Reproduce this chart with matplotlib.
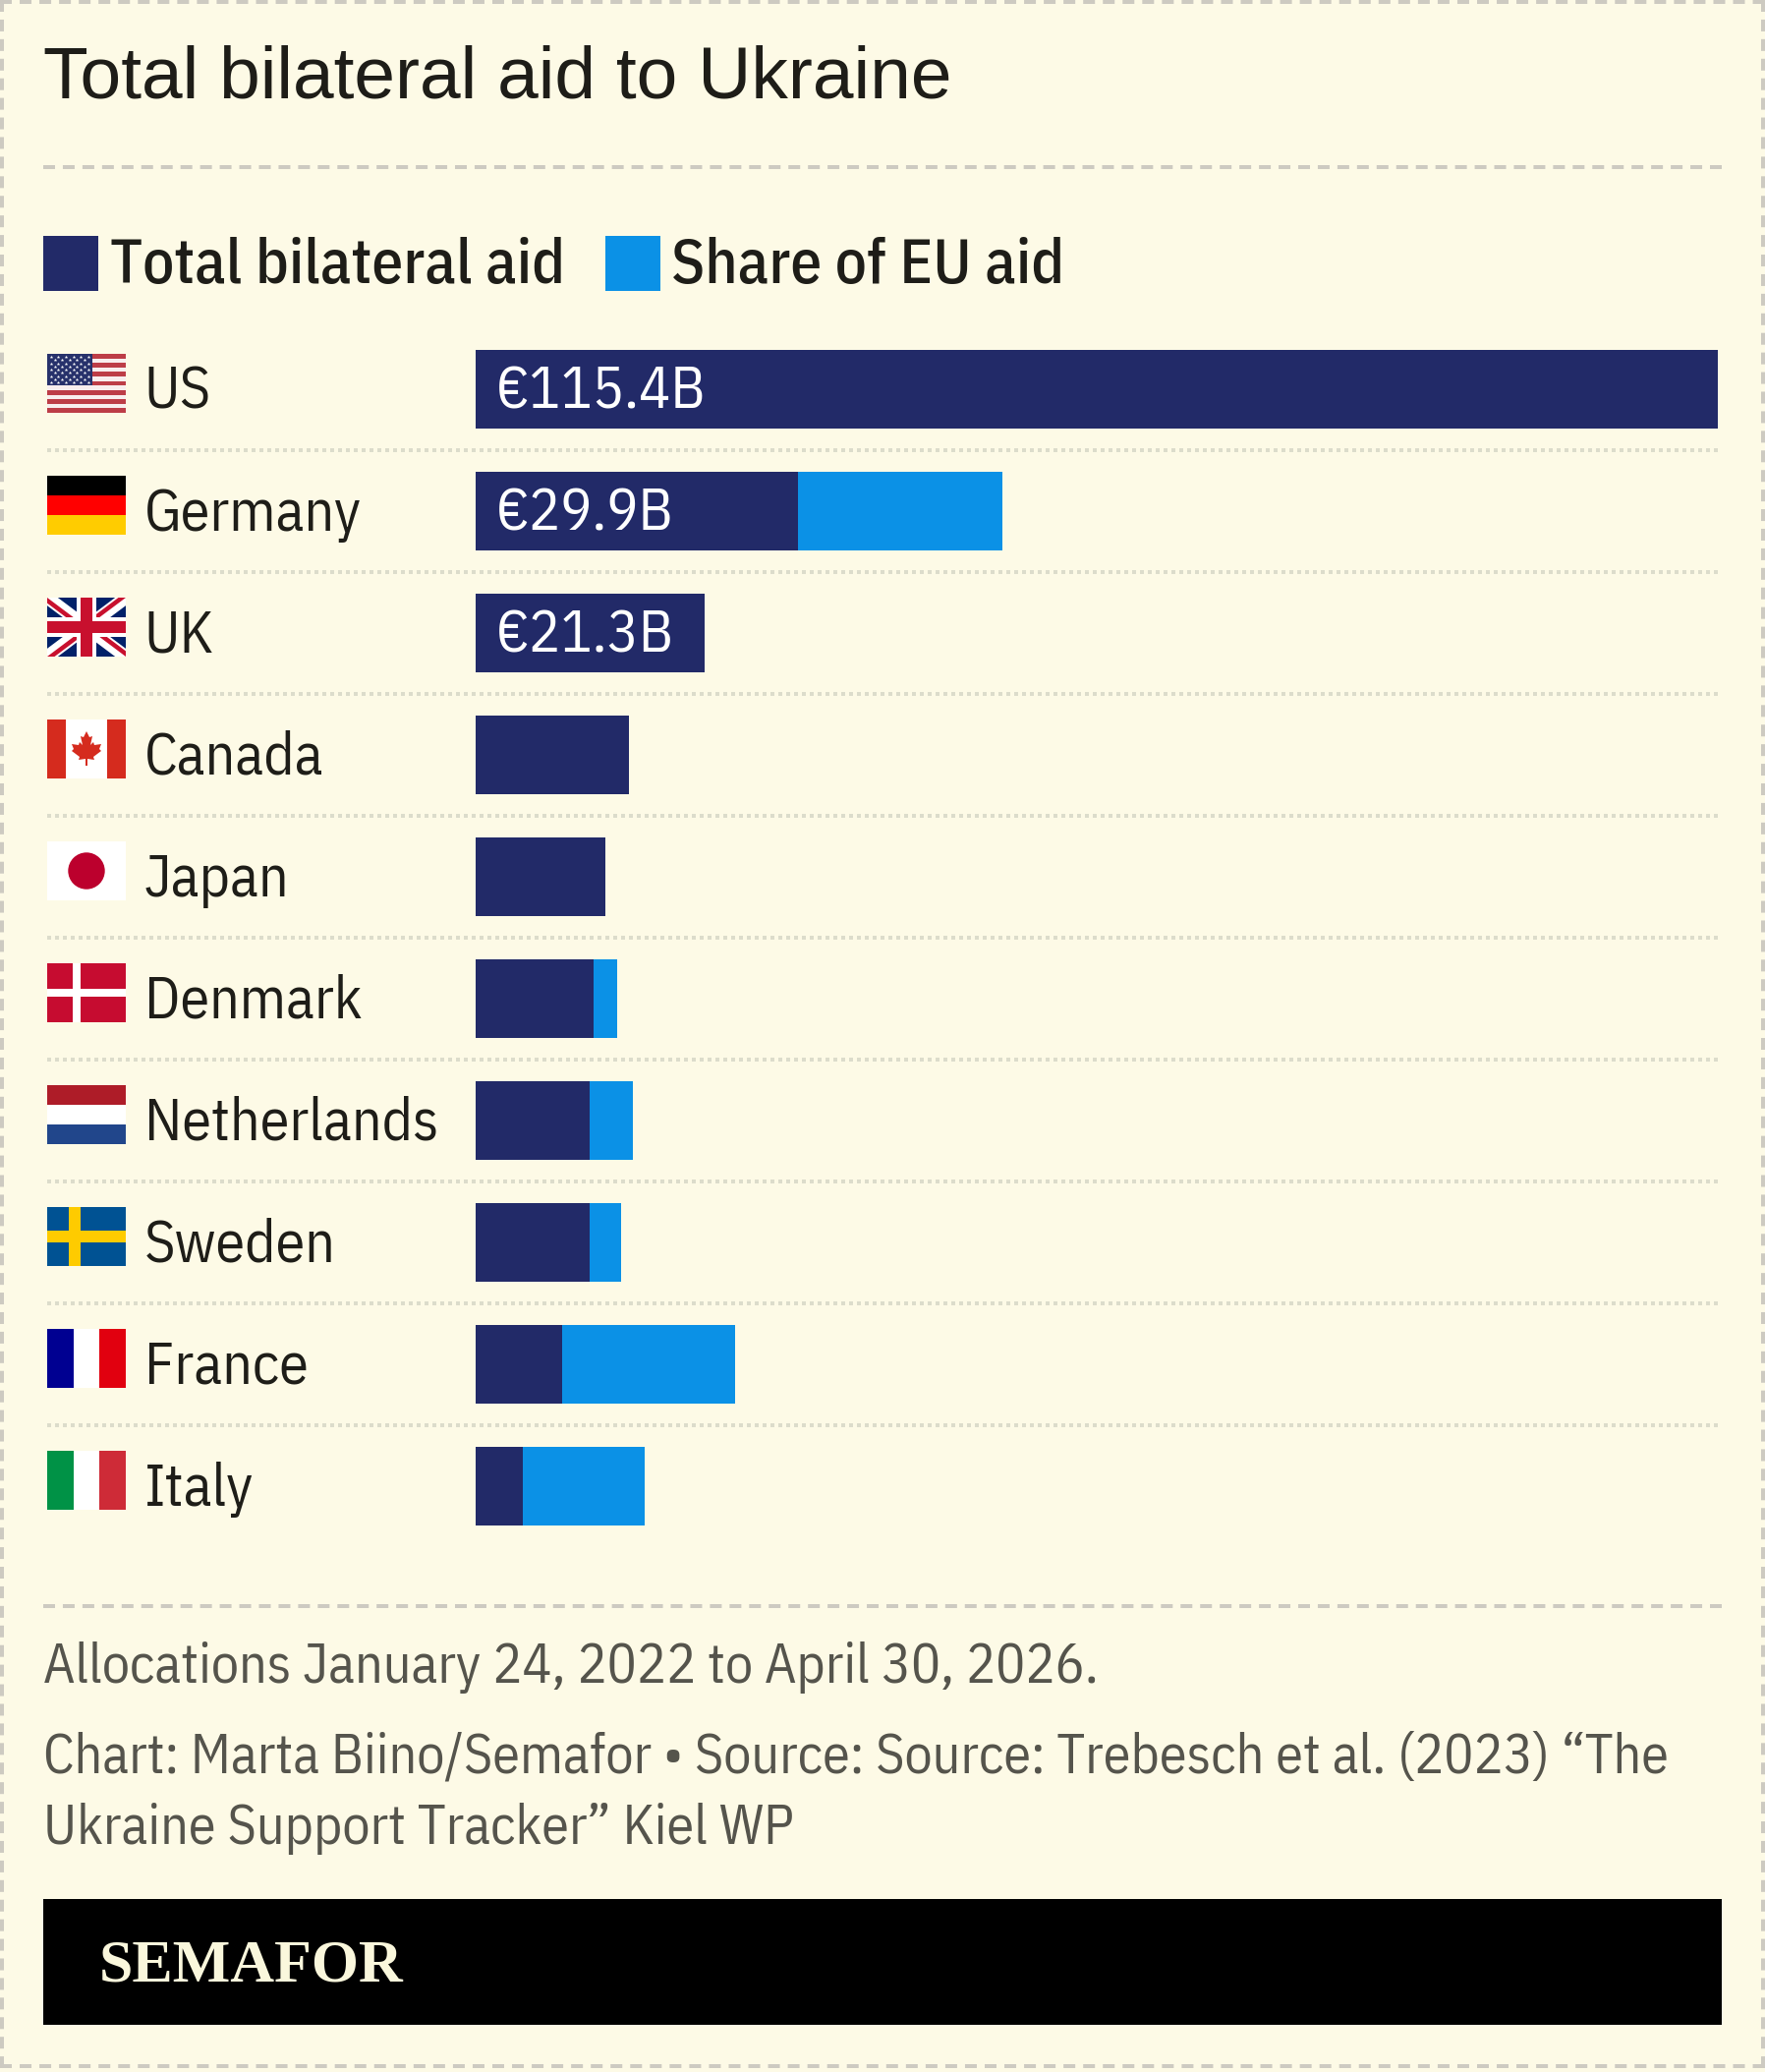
import matplotlib
matplotlib.use("Agg")
import matplotlib.pyplot as plt
from matplotlib import font_manager as fm
from matplotlib.patches import Rectangle, Circle, Polygon

# --- data -------------------------------------------------------------
countries = ["US", "Germany", "UK", "Canada", "Japan", "Denmark",
             "Netherlands", "Sweden", "France", "Italy"]
bilateral = [115.4, 29.9, 21.3, 14.2, 12.05, 11.0, 10.6, 10.6, 8.0, 4.4]
eu_share = [0.0, 19.0, 0.0, 0.0, 0.0, 2.15, 4.0, 2.9, 16.1, 11.3]
value_labels = ["€115.4B", "€29.9B", "€21.3B", "", "", "", "", "", "", ""]
legend_labels = ["Total bilateral aid", "Share of EU aid"]
title = "Total bilateral aid to Ukraine"
note = "Allocations January 24, 2022 to April 30, 2026."
credit = ["Chart: Marta Biino/Semafor • Source: Source: Trebesch et al. (2023) “The",
          "Ukraine Support Tracker” Kiel WP"]
brand = "SEMAFOR"

# --- palette ----------------------------------------------------------
PAPER = "#fdfae6"
NAVY = "#222a68"
BLUE = "#0b91e6"
INK = "#1e1d18"
GREY = "#55544c"
DASH = "#cdcac1"
DOTS = "#dcdccb"

W, H = 1796, 2108
available = {f.name for f in fm.fontManager.ttflist}
narrow = next((n for n in ["IBM Plex Sans Condensed", "Roboto Condensed",
                           "Liberation Sans Narrow", "Open Sans Condensed",
                           "Liberation Sans"] if n in available), "DejaVu Sans")


def px(size):
    return size * 0.72


fig = plt.figure(figsize=(W / 100, H / 100), dpi=100, facecolor=PAPER)

# page layer in pixel units for rules, flags and furniture
page = fig.add_axes([0, 0, 1, 1], zorder=1)
page.set_xlim(0, W)
page.set_ylim(H, 0)
page.axis("off")

# bar layer: one row every 124 px, the longest bar reaches the right margin
left, right, top, row = 484, 1748, 334, 124
chart = fig.add_axes([left / W, 1 - (top + row * len(countries)) / H,
                      (right - left) / W, row * len(countries) / H], zorder=2)
chart.patch.set_alpha(0)
chart.set_xlim(0, max(bilateral))
chart.set_ylim(len(countries) - 0.5, -0.5)
chart.axis("off")
ys = list(range(len(countries)))
chart.barh(ys, bilateral, height=80 / row, color=NAVY, linewidth=0)
chart.barh(ys, eu_share, left=bilateral, height=80 / row, color=BLUE, linewidth=0)
for y, lab in zip(ys, value_labels):
    if lab:
        chart.annotate(lab, (0, y), xytext=(px(21), px(2.5)), textcoords="offset points",
                       color="white", fontsize=px(60), family=narrow, va="center_baseline")


def rule(x0, y0, x1, y1, dash, gap, color, width=4):
    # dash and gap are given in pixels; matplotlib scales them by the line width
    page.plot([x0, x1], [y0, y1], color=color, lw=px(width),
              linestyle=(0, (dash / width, gap / width)), dash_capstyle="butt")


# outer dashed frame
rule(0, 2, W, 2, 12, 8.04, DASH)
rule(0, 2102, W, 2102, 12, 8.04, DASH)
rule(2, 0, 2, 2104, 12, 7.925, DASH)
rule(W - 2, 0, W - 2, 2104, 12, 7.925, DASH)

rule(44, 170, 1752, 170, 12, 7.953, DASH)
rule(44, 1634, 1752, 1634, 12, 7.953, DASH)
for i in range(1, len(countries)):
    rule(48, top + row * i, 1748, top + row * i, 4, 4, DOTS)

# heading and legend
page.text(44, 100, title, fontsize=px(75), color=INK, family="Liberation Sans", va="baseline")
page.add_patch(Rectangle((44, 240), 56, 56, color=NAVY, lw=0))
page.add_patch(Rectangle((616, 240), 56, 56, color=BLUE, lw=0))
page.text(112, 288, legend_labels[0], fontsize=px(63.5), color=INK, family=narrow,
          weight="medium", va="baseline")
page.text(683, 288, legend_labels[1], fontsize=px(63.5), color=INK, family=narrow,
          weight="medium", va="baseline")

for i, name in enumerate(countries):
    page.text(146.5, 416 + row * i, name, fontsize=px(60), color=INK, family=narrow, va="baseline")


# --- flags, each 80 x 60 px ------------------------------------------
def rect(x, y, w, h, c, z=3):
    p = Rectangle((x, y), w, h, facecolor=c, edgecolor="none", zorder=z)
    page.add_patch(p)
    return p


def h_bands(x, y, colors):
    for k, c in enumerate(colors):
        rect(x, y + k * 20, 80, 20, c)


def v_bands(x, y, colors):
    w = 80 / len(colors)
    for k, c in enumerate(colors):
        rect(x + k * w, y, w, 60, c)


def flag_us(x, y):
    rect(x, y, 80, 60, "#f8eeee")
    for k in range(0, 13, 2):
        rect(x, y + k * 60 / 13, 80, 60 / 13, "#bd3d47")
    rect(x, y, 45.7, 32.3, "#27316b", 4)
    sx, sy = [], []
    for r in range(9):
        n = 6 if r % 2 == 0 else 5
        off = 3.8 if r % 2 == 0 else 7.6
        for c in range(n):
            sx.append(x + off + c * 7.6)
            sy.append(y + 3.2 + r * 3.25)
    page.scatter(sx, sy, s=7, marker="*", color="white", linewidths=0, zorder=5)


def flag_uk(x, y):
    rect(x, y, 80, 60, "#012169")
    clip = Rectangle((x, y), 80, 60, transform=page.transData)
    for a, b in [((x, y), (x + 80, y + 60)), ((x, y + 60), (x + 80, y))]:
        ln, = page.plot([a[0], b[0]], [a[1], b[1]], color="white", lw=px(13), zorder=4,
                        solid_capstyle="projecting")
        ln.set_clip_path(clip)
    # red diagonals run beside the centre line of each white band, swapping side per arm
    cx, cy, w = x + 40, y + 30, 4.5
    arms = [((x - 8, y - 6), (-0.6 * w, 0.8 * w)),
            ((x + 88, y + 66), (0.6 * w, -0.8 * w)),
            ((x - 8, y + 66), (0.6 * w, 0.8 * w)),
            ((x + 88, y - 6), (-0.6 * w, -0.8 * w))]
    for (ex, ey), (nx, ny) in arms:
        pg = Polygon([(ex, ey), (cx, cy), (cx + nx, cy + ny), (ex + nx, ey + ny)],
                     facecolor="#c8102e", edgecolor="none", zorder=5)
        page.add_patch(pg)
        pg.set_clip_path(clip)
    rect(x + 30, y, 20, 60, "white", 6)
    rect(x, y + 20, 80, 20, "white", 6)
    rect(x + 34, y, 12, 60, "#c8102e", 7)
    rect(x, y + 24, 80, 12, "#c8102e", 7)


def flag_ca(x, y):
    rect(x, y, 80, 60, "white")
    rect(x, y, 19, 60, "#d52b1e", 4)
    rect(x + 61, y, 19, 60, "#d52b1e", 4)
    leaf = [(0, -18), (-3, -12), (-6, -13), (-4, -4), (-7, -7), (-8, -4), (-15, -5),
            (-13, 0), (-15, 2), (-7, 8), (-8, 11), (-1, 10), (-1, 17), (1, 17), (1, 10),
            (8, 11), (7, 8), (15, 2), (13, 0), (15, -5), (8, -4), (7, -7), (4, -4),
            (6, -13), (3, -12)]
    page.add_patch(Polygon([(x + 40 + a, y + 30 + b) for a, b in leaf],
                           facecolor="#d52b1e", edgecolor="none", zorder=5))


def flag_jp(x, y):
    rect(x, y, 80, 60, "white")
    page.add_patch(Circle((x + 40, y + 30), 18.7, facecolor="#bc002d", edgecolor="none", zorder=4))


def flag_dk(x, y):
    rect(x, y, 80, 60, "#c60c30")
    rect(x + 25.7, y, 8.6, 60, "white", 4)
    rect(x, y + 25.5, 80, 8.6, "white", 4)


def flag_nl(x, y):
    h_bands(x, y, ["#ae1c28", "#ffffff", "#21468b"])


def flag_se(x, y):
    rect(x, y, 80, 60, "#005293")
    rect(x + 22, y, 12, 60, "#fecb00", 4)
    rect(x, y + 24, 80, 12, "#fecb00", 4)


flags = [flag_us,
         lambda x, y: h_bands(x, y, ["#000000", "#ff0000", "#ffcc00"]),
         flag_uk, flag_ca, flag_jp, flag_dk, flag_nl, flag_se,
         lambda x, y: v_bands(x, y, ["#000091", "#ffffff", "#e1000f"]),
         lambda x, y: v_bands(x, y, ["#009246", "#ffffff", "#ce2b37"])]
for i, draw in enumerate(flags):
    draw(48, 360 + row * i)

# footer
page.text(44, 1712, note, fontsize=px(56.05), color=GREY, family=narrow, va="baseline")
page.text(44, 1803, credit[0], fontsize=px(56.05), color=GREY, family=narrow, va="baseline")
page.text(44, 1876, credit[1], fontsize=px(56.05), color=GREY, family=narrow, va="baseline")
page.add_patch(Rectangle((44, 1932), 1708, 128, color="#000000", lw=0))
page.text(101, 2016, brand, fontsize=px(62), color="#faf7dc", family="Liberation Serif",
          weight="bold", va="baseline")

fig.savefig("out.png", dpi=100, facecolor=PAPER)
